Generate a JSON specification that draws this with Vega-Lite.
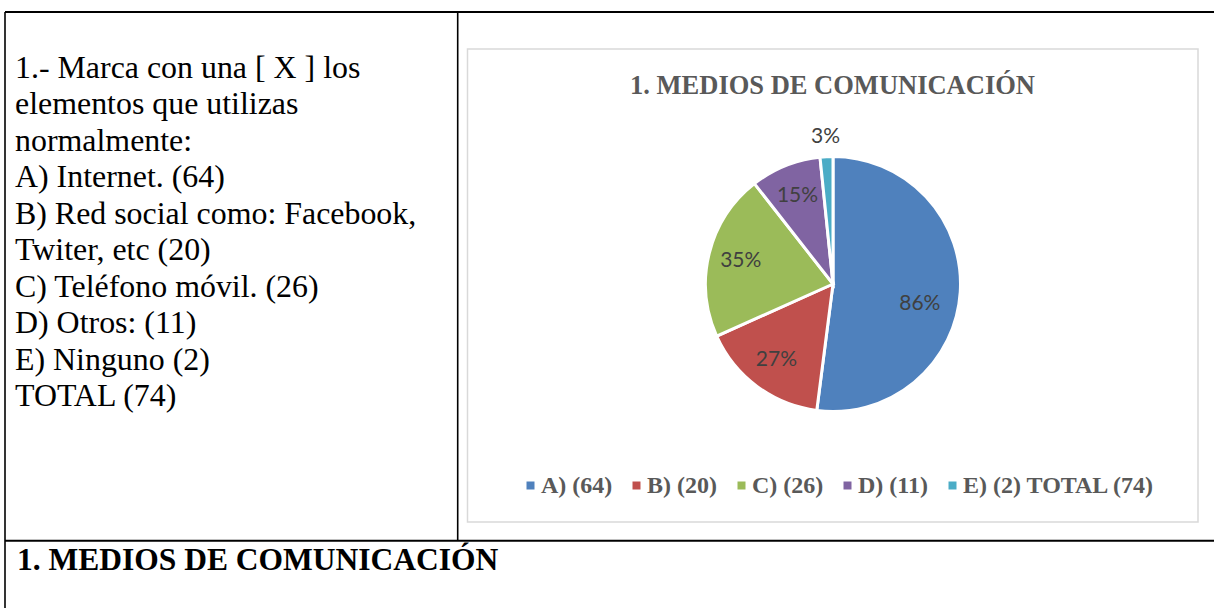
{
  "$schema": "https://vega.github.io/schema/vega-lite/v6.json",
  "width": 1214,
  "height": 608,
  "padding": 0,
  "autosize": {"type": "none"},
  "background": "white",
  "config": {"view": {"stroke": null}},
  "layer": [
    {
      "data": {"values": [{}]},
      "mark": {"type": "rect", "fill": "white", "stroke": "#D9D9D9", "strokeWidth": 1.5},
      "encoding": {"x": {"value": 467.5}, "x2": {"value": 1198}, "y": {"value": 49}, "y2": {"value": 522}}
    },
    {
      "data": {"values": [{}]},
      "mark": {"type": "rule", "color": "black", "strokeWidth": 2},
      "encoding": {"x": {"value": 5}, "x2": {"value": 1214}, "y": {"value": 12}, "y2": {"value": 12}}
    },
    {
      "data": {"values": [{}]},
      "mark": {"type": "rule", "color": "black", "strokeWidth": 2},
      "encoding": {"x": {"value": 5}, "x2": {"value": 1214}, "y": {"value": 540.7}, "y2": {"value": 540.7}}
    },
    {
      "data": {"values": [{}]},
      "mark": {"type": "rule", "color": "black", "strokeWidth": 1.6},
      "encoding": {"x": {"value": 5}, "x2": {"value": 5}, "y": {"value": 12}, "y2": {"value": 608}}
    },
    {
      "data": {"values": [{}]},
      "mark": {"type": "rule", "color": "black", "strokeWidth": 1.6},
      "encoding": {"x": {"value": 457.7}, "x2": {"value": 457.7}, "y": {"value": 12}, "y2": {"value": 540.7}}
    },
    {
      "data": {"values": [
        {"linea": 1, "texto": "1.- Marca con una [ X ] los"},
        {"linea": 2, "texto": "elementos que utilizas"},
        {"linea": 3, "texto": "normalmente:"},
        {"linea": 4, "texto": "A) Internet. (64)"},
        {"linea": 5, "texto": "B) Red social como: Facebook,"},
        {"linea": 6, "texto": "Twiter, etc  (20)"},
        {"linea": 7, "texto": "C) Teléfono móvil. (26)"},
        {"linea": 8, "texto": "D) Otros: (11)"},
        {"linea": 9, "texto": "E) Ninguno (2)"},
        {"linea": 10, "texto": "TOTAL (74)"}
      ]},
      "mark": {"type": "text", "font": "Liberation Serif", "fontSize": 31.9, "align": "left", "baseline": "alphabetic", "color": "black"},
      "encoding": {
        "x": {"value": 15},
        "y": {"field": "linea", "type": "ordinal", "scale": {"type": "point", "range": [78, 406], "padding": 0}, "axis": null},
        "text": {"field": "texto"}
      }
    },
    {
      "data": {"values": [{"titulo": "1. MEDIOS DE COMUNICACIÓN"}]},
      "mark": {"type": "text", "font": "Liberation Serif", "fontSize": 31.5, "fontWeight": "bold", "align": "left", "baseline": "alphabetic", "color": "black"},
      "encoding": {"x": {"value": 17}, "y": {"value": 570}, "text": {"field": "titulo"}}
    },
    {
      "data": {"values": [{"titulo": "1. MEDIOS DE COMUNICACIÓN"}]},
      "mark": {"type": "text", "font": "Liberation Serif", "fontSize": 26.5, "fontWeight": "bold", "align": "center", "baseline": "alphabetic", "color": "#595959"},
      "encoding": {"x": {"value": 832.5}, "y": {"value": 94}, "text": {"field": "titulo"}}
    },
    {
      "data": {"values": [
        {"cat": "A", "leyenda": "A) (64)", "n": 64, "pct": "86%"},
        {"cat": "B", "leyenda": "B) (20)", "n": 20, "pct": "27%"},
        {"cat": "C", "leyenda": "C) (26)", "n": 26, "pct": "35%"},
        {"cat": "D", "leyenda": "D) (11)", "n": 11, "pct": "15%"},
        {"cat": "E", "leyenda": "E) (2) TOTAL (74)", "n": 2, "pct": "3%"}
      ]},
      "encoding": {
        "theta": {"field": "n", "type": "quantitative", "stack": true},
        "order": {"field": "leyenda", "sort": "ascending"},
        "x": {"value": 833},
        "y": {"value": 284}
      },
      "layer": [
        {
          "mark": {"type": "arc", "outerRadius": 127.5, "stroke": "white", "strokeWidth": 3},
          "encoding": {
            "color": {
              "field": "leyenda",
              "type": "nominal",
              "scale": {"range": ["#4F81BD", "#C0504D", "#9BBB59", "#8064A2", "#4BACC6"]},
              "legend": {
                "orient": "none",
                "legendX": 518.5,
                "legendY": 473.5,
                "direction": "horizontal",
                "title": null,
                "symbolType": "square",
                "symbolSize": 64,
                "symbolStrokeWidth": 0,
                "labelFont": "Liberation Serif",
                "labelFontWeight": "bold",
                "labelFontSize": 24,
                "labelColor": "#595959",
                "labelOffset": -1.5,
                "labelLimit": 400,
                "columnPadding": 12,
                "padding": 0
              }
            }
          }
        },
        {
          "mark": {"type": "text", "radius": 95, "font": "Lato", "fontSize": 21},
          "encoding": {
            "detail": {"field": "leyenda"},
            "color": {"value": "#404040"},
            "text": {"condition": {"test": "datum.cat !== 'A' && datum.cat !== 'E'", "field": "pct"}, "value": ""}
          }
        },
        {
          "mark": {"type": "text", "radius": 89, "font": "Lato", "fontSize": 21, "dx": -2, "dy": 14},
          "encoding": {
            "detail": {"field": "leyenda"},
            "color": {"value": "#404040"},
            "text": {"condition": {"test": "datum.cat === 'A'", "field": "pct"}, "value": ""}
          }
        },
        {
          "mark": {"type": "text", "radius": 147, "font": "Lato", "fontSize": 21},
          "encoding": {
            "detail": {"field": "leyenda"},
            "color": {"value": "#404040"},
            "text": {"condition": {"test": "datum.cat === 'E'", "field": "pct"}, "value": ""}
          }
        }
      ]
    }
  ]
}
